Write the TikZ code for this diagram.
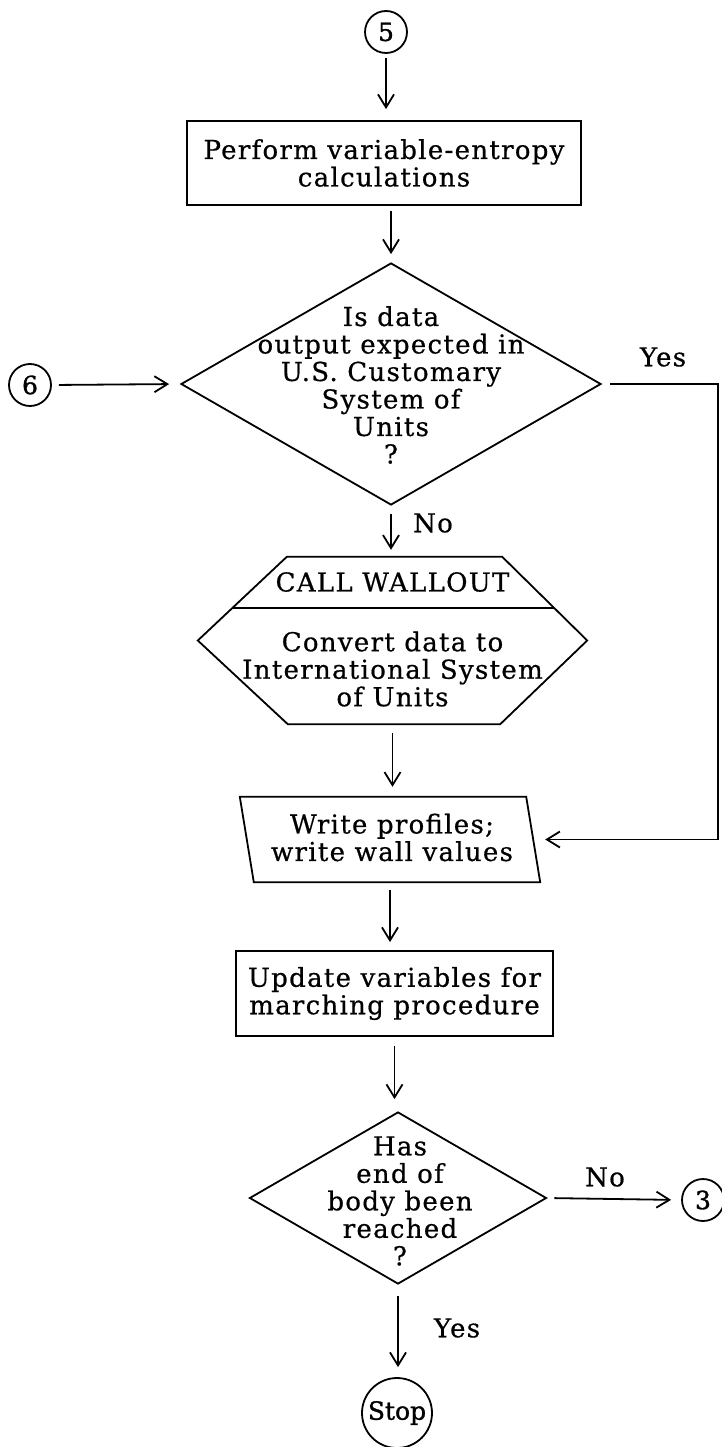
\documentclass[tikz,border=0pt]{standalone}
\usepackage{fontspec}
\setmainfont[LetterSpace=5,FakeBold=0.6]{DejaVu Serif}
\newfontfamily\connfont[FakeBold=1.2]{DejaVu Serif}
\usetikzlibrary{arrows.meta,shapes.geometric,calc}
\newcommand\flowfont{\fontsize{26}{27.5}\selectfont}
\newcommand\numfont{\connfont\fontsize{25}{27}\selectfont}
\tikzset{
  flowline/.style={line width=1.8pt},
  arr/.style={line width=1.8pt, -{Straight Barb[length=13pt,width=16pt,line width=1.8pt]}},
  procbox/.style={draw, rectangle, line width=1.8pt, inner sep=0pt, align=center, font=\flowfont},
  decision/.style={draw, diamond, line width=1.8pt, inner sep=0pt},
  bodytext/.style={align=center, font=\flowfont, inner sep=0pt},
  lbltext/.style={font=\flowfont, inner sep=0pt},
  conn/.style={draw, circle, line width=1.8pt, minimum size=42pt, inner sep=0pt, font=\numfont},
}
\begin{document}
\begin{tikzpicture}[x=1pt, y=-1pt]
\useasboundingbox (0,0) rectangle (721,1447);

% connectors in and out
\node[conn] (c5) at (386,32) {5};
\node[conn] (c6) at (30,385) {6};
\node[conn] (c3) at (703,1200) {3};
\node[conn, minimum size=70pt] (stop) at (397,1413) {Stop};

% process box
\node[procbox, minimum width=394pt, minimum height=84pt] (box1) at (384,163)
  {Perform variable-entropy\\calculations};

% first decision
\node[decision, minimum width=420pt, minimum height=242pt] (d1) at (391,384) {};
\node[bodytext] (d1txt) at (391,385)
  {Is data\\output expected in\\U.S. Customary\\System of\\Units\\?};

% subroutine call (hexagon with header)
\node[minimum width=389pt, minimum height=167pt, inner sep=0pt] (hex) at (392.5,640.5) {};
\coordinate (hexTL) at ($(hex.north west)+(89,0)$);
\coordinate (hexTR) at ($(hex.north east)+(-85,0)$);
\coordinate (hexBL) at ($(hex.south west)+(90,0)$);
\coordinate (hexBR) at ($(hex.south east)+(-87,0)$);
\draw[flowline, line join=miter] (hex.west) -- (hexTL) -- (hexTR) -- (hex.east)
  -- (hexBR) -- (hexBL) -- cycle;
\draw[flowline] ($(hexTL)!0.61!(hex.west)$) -- ($(hexTR)!0.61!(hex.east)$);
\node[bodytext] (hexhead) at (392.5,582) {CALL WALLOUT};
\node[bodytext] (hexbody) at (392.5,669)
  {Convert data to\\International System\\of Units};

% output (parallelogram)
\node[minimum width=300pt, minimum height=85pt, inner sep=0pt] (para) at (390,839.5) {};
\draw[flowline] (para.north west) -- ($(para.north east)+(-14,0)$) -- (para.south east)
  -- ($(para.south west)+(14,0)$) -- cycle;
\node[bodytext] (paratxt) at (392,837.5) {Write profiles;\\write wall values};

% update box
\node[procbox, minimum width=317pt, minimum height=85pt] (box2) at (394.5,993.5)
  {Update variables for\\marching procedure};

% second decision
\node[decision, minimum width=297pt, minimum height=172pt] (d2) at (398,1198) {};
\node[bodytext] (d2txt) at (400,1201)
  {Has\\end of\\body been\\reached\\?};

% branch labels
\node[lbltext] (yes1) at (663,357) {Yes};
\node[lbltext] (no1) at (433,523) {No};
\node[lbltext] (no2) at (605,1177) {No};
\node[lbltext] (yes2) at (457,1328) {Yes};

% flow arrows
\draw[arr, shorten <=4pt, shorten >=11pt] (c5.south) -- (c5.south |- box1.north);
\draw[arr, shorten <=5pt, shorten >=8pt] (box1.south -| d1.north) -- (d1.north);
\draw[arr, shorten <=7pt, shorten >=11pt] (c6.east) -- (d1.west);
\draw[arr, shorten <=8pt, shorten >=7pt] (d1.south) -- (d1.south |- hex.north);
\draw[arr, shorten <=9pt, shorten >=10pt] (hex.south) -- (hex.south |- para.north);
\draw[arr, shorten <=8pt, shorten >=8pt] (para.south) -- (para.south |- box2.north);
\draw[arr, shorten <=9pt, shorten >=12pt] (box2.south) -- (box2.south |- d2.north);
\draw[arr, shorten <=11pt, shorten >=10pt] (d2.south) -- (d2.south |- stop.north);
\draw[arr, shorten <=7pt, shorten >=10pt] (d2.east) -- (c3.west);

% "Yes" bypass to the output block
\coordinate (rail) at (718,0);
\draw[arr, shorten <=8pt, shorten >=5pt] (d1.east) -- (d1.east -| rail) |- (para.east);
\end{tikzpicture}
\end{document}
